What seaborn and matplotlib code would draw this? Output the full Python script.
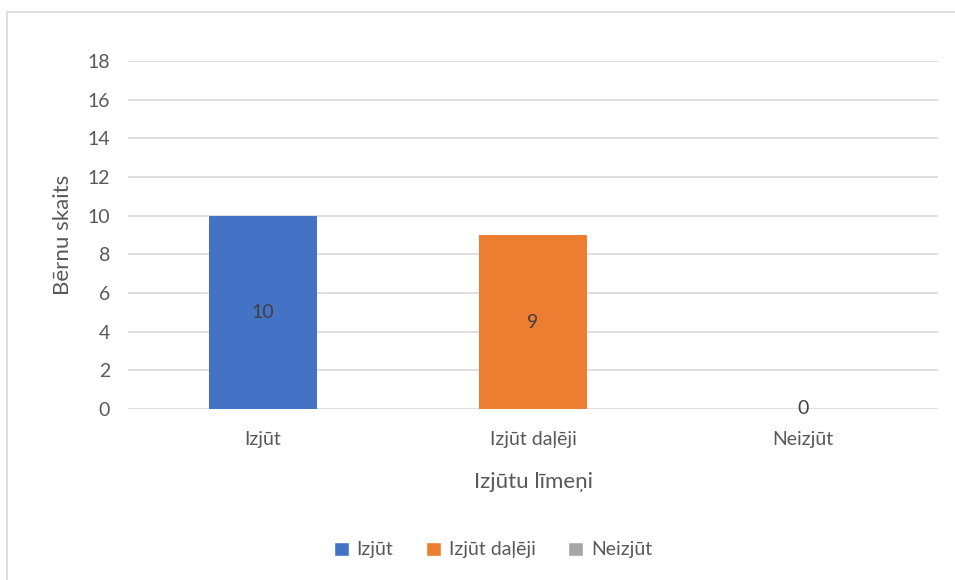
import matplotlib
matplotlib.use("Agg")
import matplotlib.pyplot as plt
from matplotlib.patches import Rectangle
import seaborn as sns
import pandas as pd

categories = ["Izjūt", "Izjūt daļēji", "Neizjūt"]
values = [10, 9, 0]
colors = ["#4472C4", "#ED7D31", "#A5A5A5"]
y_ticks = [0, 2, 4, 6, 8, 10, 12, 14, 16, 18]

sns.set_theme(style="white")
plt.rcParams["font.family"] = ["Lato", "DejaVu Sans"]

text_color = "#595959"
grid_color = "#D9D9D9"

df = pd.DataFrame({"Izjūtu līmeņi": categories, "Bērnu skaits": values})

fig = plt.figure(figsize=(9.55, 5.8), dpi=100)
ax = fig.add_axes([128 / 955, 1 - 409 / 580, 810 / 955, 348 / 580])

sns.barplot(data=df, x="Izjūtu līmeņi", y="Bērnu skaits", hue="Izjūtu līmeņi",
            palette=colors, width=0.4, dodge=False, legend=False, ax=ax,
            saturation=1, linewidth=0)

ax.set_ylim(0, 18)
ax.set_yticks(y_ticks)
ax.set_xlim(-0.5, 2.5)
ax.yaxis.grid(True, color=grid_color, linewidth=1.2)
ax.set_axisbelow(True)
for s in ax.spines.values():
    s.set_visible(False)
ax.tick_params(axis="both", length=0, colors=text_color, labelsize=14)
ax.tick_params(axis="y", pad=13)
ax.tick_params(axis="x", pad=16)

for cont in ax.containers:
    ax.bar_label(cont, fmt="%g", label_type="center", color="#404040", fontsize=14)

ax.set_ylabel("Bērnu skaits", color=text_color, fontsize=16, labelpad=10)
ax.set_xlabel("Izjūtu līmeņi", color=text_color, fontsize=16, labelpad=17)

handles = [Rectangle((0, 0), 1, 1, facecolor=c) for c in colors]
fig.legend(handles, categories, loc="center", bbox_to_anchor=(493 / 955, 1 - 550 / 580),
           ncol=3, frameon=False, fontsize=14, labelcolor=text_color,
           handlelength=0.75, handleheight=0.75, handletextpad=0.4, columnspacing=1.7)

# light chart frame
fig.patches.append(Rectangle((7 / 955, -0.1), 1.2, 1 - 12 / 580 + 0.1,
                             transform=fig.transFigure, fill=False,
                             edgecolor=grid_color, linewidth=1.2))

fig.savefig("out.png", dpi=100, facecolor="white")
